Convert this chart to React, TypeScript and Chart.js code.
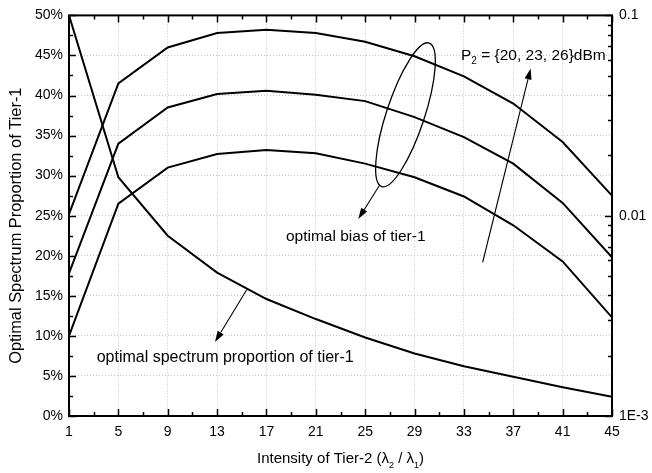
import React, { useEffect, useRef } from "react";
import { Chart, registerables } from "chart.js";

Chart.register(...registerables);

// ---- data ----
const X_VALUES = [1, 5, 9, 13, 17, 21, 25, 29, 33, 37, 41, 45];
const BIAS_P26 = [25.2, 41.5, 46.0, 47.8, 48.2, 47.8, 46.7, 44.9, 42.4, 39.0, 34.2, 27.5];
const BIAS_P23 = [17.8, 34.0, 38.5, 40.2, 40.6, 40.1, 39.3, 37.3, 34.8, 31.5, 26.6, 19.8];
const BIAS_P20 = [10.0, 26.5, 31.0, 32.7, 33.2, 32.8, 31.5, 29.8, 27.4, 23.8, 19.3, 12.3];
const SPECTRUM = [50.0, 29.8, 22.5, 17.9, 14.6, 12.1, 9.8, 7.8, 6.2, 4.9, 3.6, 2.4];

const RIGHT_TICK_LABELS: Record<string, string> = { "-1": "0.1", "-2": "0.01", "-3": "1E-3" };

const X_TITLE_PARTS = ["Intensity of Tier-2 (λ", "2", " / λ", "1", ")"];
const Y_TITLE = "Optimal Spectrum Proportion of Tier-1";

// annotation anchors in data units (x value, percent)
const ELLIPSE_ENDS = [
  [30.19, 46.55],
  [26.34, 28.64],
];
const ARROWS = [
  { from: [26.14, 28.73], to: [24.44, 24.59] },
  { from: [15.4, 15.76], to: [12.83, 9.24] },
  { from: [34.52, 19.19], to: [38.41, 43.37] },
];
const TEXT_LABELS = [
  { parts: ["optimal bias of tier-1"], at: [18.58, 21.8], size: 15.5 },
  { parts: ["optimal spectrum proportion of tier-1"], at: [3.24, 6.75], size: 16 },
  { parts: ["P", "2", " = {20, 23, 26}dBm"], at: [32.76, 44.49], size: 15.5 },
];

const FONT = "'Liberation Sans', Arial, sans-serif";

function drawRich(ctx: CanvasRenderingContext2D, parts: string[], x: number, y: number, size: number, align: "left" | "center") {
  const subSize = Math.round(size * 0.62);
  const widths = parts.map((p, i) => {
    ctx.font = `${i % 2 === 1 ? subSize : size}px ${FONT}`;
    return ctx.measureText(p).width;
  });
  const total = widths.reduce((a, b) => a + b, 0);
  let cx = align === "center" ? x - total / 2 : x;
  ctx.textAlign = "left";
  ctx.textBaseline = "alphabetic";
  parts.forEach((p, i) => {
    const sub = i % 2 === 1;
    ctx.font = `${sub ? subSize : size}px ${FONT}`;
    ctx.fillText(p, cx, sub ? y + size * 0.3 : y);
    cx += widths[i];
  });
}

const overlayPlugin = {
  id: "overlay",
  afterDatasetsDraw(chart: any) {
    const ctx: CanvasRenderingContext2D = chart.ctx;
    const { left, right, top, bottom } = chart.chartArea;
    const xs = chart.scales.x;
    const ys = chart.scales.y;
    const yr = chart.scales.y2;
    ctx.save();
    ctx.strokeStyle = "#000";
    ctx.fillStyle = "#000";

    // ticks (inward)
    ctx.lineWidth = 1.5;
    ctx.beginPath();
    for (let v = 1; v <= 45; v += 2) {
      const px = Math.round(xs.getPixelForValue(v)) + 0.5;
      const len = (v - 1) % 4 === 0 ? 7 : 4;
      ctx.moveTo(px, bottom);
      ctx.lineTo(px, bottom - len);
      ctx.moveTo(px, top);
      ctx.lineTo(px, top + len);
    }
    for (let v = 0; v <= 50; v += 2.5) {
      const py = Math.round(ys.getPixelForValue(v)) + 0.5;
      const len = v % 5 === 0 ? 7 : 4;
      ctx.moveTo(left, py);
      ctx.lineTo(left + len, py);
    }
    for (let e = -3; e <= -1; e++) {
      for (let m = 1; m <= 9; m++) {
        const v = m * Math.pow(10, e);
        if (v > 0.1 + 1e-9) break;
        const py = Math.round(yr.getPixelForValue(v)) + 0.5;
        const len = m === 1 ? 7 : 4;
        ctx.moveTo(right, py);
        ctx.lineTo(right - len, py);
      }
    }
    ctx.stroke();

    // frame
    ctx.lineWidth = 2;
    ctx.strokeRect(left, top, right - left, bottom - top);

    // ellipse
    const p1 = [xs.getPixelForValue(ELLIPSE_ENDS[0][0]), ys.getPixelForValue(ELLIPSE_ENDS[0][1])];
    const p2 = [xs.getPixelForValue(ELLIPSE_ENDS[1][0]), ys.getPixelForValue(ELLIPSE_ENDS[1][1])];
    const cx = (p1[0] + p2[0]) / 2;
    const cy = (p1[1] + p2[1]) / 2;
    const semi = Math.hypot(p1[0] - p2[0], p1[1] - p2[1]) / 2;
    const rot = Math.atan2(p1[1] - p2[1], p1[0] - p2[0]);
    ctx.lineWidth = 1.3;
    ctx.beginPath();
    ctx.ellipse(cx, cy, semi, 19, rot, 0, Math.PI * 2);
    ctx.stroke();

    // arrows
    ctx.lineWidth = 1.1;
    ARROWS.forEach((a) => {
      const fx = xs.getPixelForValue(a.from[0]);
      const fy = ys.getPixelForValue(a.from[1]);
      const tx = xs.getPixelForValue(a.to[0]);
      const ty = ys.getPixelForValue(a.to[1]);
      const ang = Math.atan2(ty - fy, tx - fx);
      const hl = 11;
      const hw = 3.5;
      const bx = tx - hl * Math.cos(ang);
      const by = ty - hl * Math.sin(ang);
      ctx.beginPath();
      ctx.moveTo(fx, fy);
      ctx.lineTo(bx, by);
      ctx.stroke();
      ctx.beginPath();
      ctx.moveTo(tx, ty);
      ctx.lineTo(bx + hw * Math.sin(ang), by - hw * Math.cos(ang));
      ctx.lineTo(bx - hw * Math.sin(ang), by + hw * Math.cos(ang));
      ctx.closePath();
      ctx.fill();
    });

    // annotation texts
    TEXT_LABELS.forEach((t) => {
      drawRich(ctx, t.parts, xs.getPixelForValue(t.at[0]), ys.getPixelForValue(t.at[1]), t.size, "left");
    });

    // x axis title
    drawRich(ctx, X_TITLE_PARTS, (left + right) / 2, 463, 15, "center");

    // y axis title
    ctx.save();
    ctx.translate(20.5, (top + bottom) / 2 + 10);
    ctx.rotate(-Math.PI / 2);
    ctx.font = `16.4px ${FONT}`;
    ctx.textAlign = "center";
    ctx.textBaseline = "alphabetic";
    ctx.fillText(Y_TITLE, 0, 0);
    ctx.restore();

    ctx.restore();
  },
};

export default function App() {
  const ref = useRef<HTMLCanvasElement>(null);
  useEffect(() => {
    if (!ref.current) return;
    const mk = (arr: number[]) => X_VALUES.map((x, i) => ({ x, y: arr[i] }));
    const line = (label: string, arr: number[]) => ({
      label,
      data: mk(arr),
      borderColor: "#000",
      backgroundColor: "#000",
      borderWidth: 2,
      pointRadius: 0,
      tension: 0,
      fill: false,
      yAxisID: "y",
    });
    const gridStyle = { color: "#c4c4c4", lineWidth: 1, drawTicks: false };
    const chart = new Chart(ref.current, {
      type: "line",
      data: {
        datasets: [
          line("P2 = 26 dBm", BIAS_P26),
          line("P2 = 23 dBm", BIAS_P23),
          line("P2 = 20 dBm", BIAS_P20),
          line("optimal spectrum proportion of tier-1", SPECTRUM),
        ],
      },
      options: {
        animation: false,
        responsive: true,
        maintainAspectRatio: false,
        layout: { padding: { top: 14, left: 0, right: 0, bottom: 0 } },
        plugins: { legend: { display: false }, tooltip: { enabled: false } },
        scales: {
          x: {
            type: "linear",
            min: 1,
            max: 45,
            grid: gridStyle,
            border: { display: false, dash: [1, 2] },
            ticks: { stepSize: 4, autoSkip: false, maxRotation: 0, padding: 8, color: "#000", font: { family: FONT, size: 14 } },
            afterFit: (s: any) => {
              s.height = 57;
            },
          },
          y: {
            type: "linear",
            position: "left",
            min: 0,
            max: 50,
            grid: gridStyle,
            border: { display: false, dash: [1, 2] },
            ticks: {
              stepSize: 5,
              padding: 6,
              color: "#000",
              font: { family: FONT, size: 14 },
              callback: (v: any) => `${v}%`,
            },
            afterFit: (s: any) => {
              s.width = 69;
            },
          },
          y2: {
            type: "logarithmic",
            position: "right",
            min: 0.001,
            max: 0.1,
            grid: { display: false, drawTicks: false },
            border: { display: false },
            ticks: {
              autoSkip: false,
              padding: 7,
              color: "#000",
              font: { family: FONT, size: 14 },
              major: { enabled: false },
              callback: (v: any) => {
                const l = Math.log10(Number(v));
                if (Math.abs(l - Math.round(l)) < 1e-6) return RIGHT_TICK_LABELS[String(Math.round(l))] ?? "";
                return "";
              },
            },
            afterFit: (s: any) => {
              s.width = 40;
            },
          },
        },
      },
      plugins: [overlayPlugin],
    });
    return () => chart.destroy();
  }, []);
  return (
    <div style={{ position: "absolute", left: 0, top: 0, width: 652, height: 473, background: "#fff" }}>
      <canvas ref={ref} />
    </div>
  );
}
